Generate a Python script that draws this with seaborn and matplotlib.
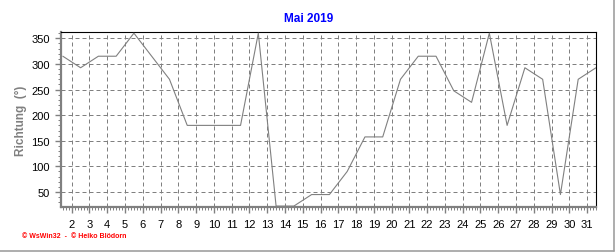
import matplotlib
matplotlib.use("Agg")
import matplotlib.pyplot as plt
from matplotlib.lines import Line2D
from matplotlib.ticker import MultipleLocator
import numpy as np
import pandas as pd
import seaborn as sns

# Data: daily mean wind direction, May 2019
days = list(range(1, 32))
direction = [315, 292.5, 315, 315, 360, 315, 270, 180, 180, 180, 180, 360,
             22.5, 22.5, 45, 45, 90, 157.5, 157.5, 270, 315, 315, 247.5, 225,
             360, 180, 292.5, 270, 45, 270, 292.5]
x_tick_labels = [str(d) for d in range(2, 32)]
y_ticks = [50, 100, 150, 200, 250, 300, 350]

title = "Mai 2019"
ylabel = "Richtung  (°)"
footer = "© WsWin32  -  © Heiko Blödorn"

sns.set_style("white")
plt.rcParams['font.family'] = ['Liberation Sans', 'DejaVu Sans']

W, H = 616, 253
fig = plt.figure(figsize=(W / 100, H / 100), dpi=100)
fig.patch.set_facecolor("white")

left, right, top, bottom = 60.7, 596.5, 33.3, 208.0
ax = fig.add_axes([left / W, 1 - bottom / H, (right - left) / W, (bottom - top) / H])

df = pd.DataFrame({"x": np.array(days) + 0.5, "y": direction})
sns.lineplot(data=df, x="x", y="y", ax=ax, color="#808080", linewidth=0.8,
             zorder=3, clip_on=True)

ax.set_xlim(1.38, 31.53)
ax.set_ylim(20.7, 361.7)

ax.set_xticks(range(2, 32))
ax.set_xticklabels(x_tick_labels)
ax.xaxis.set_minor_locator(MultipleLocator(1 / 6))
ax.set_yticks(y_ticks)
ax.yaxis.set_minor_locator(MultipleLocator(10))

ax.tick_params(axis="both", which="major", direction="out", length=4, width=1,
               color="#808080", labelsize=8, labelcolor="black", pad=4)
ax.tick_params(axis="both", which="minor", direction="out", length=2.5, width=0.7,
               color="#808080")
ax.tick_params(axis="x", which="major", pad=5)
ax.tick_params(axis="y", which="major", pad=4)
ax.tick_params(bottom=True, left=True, which="both")

ax.grid(True, which="major", color="#808080", linewidth=0.72,
        linestyle=(0, (4, 3)), zorder=1)

for s in ["top", "right"]:
    ax.spines[s].set_color("black")
    ax.spines[s].set_linewidth(0.8)
for s in ["left", "bottom"]:
    ax.spines[s].set_color("#808080")
    ax.spines[s].set_linewidth(1.6)

ax.set_xlabel("")
ax.set_ylabel(ylabel, color="#808080", fontweight="bold", fontsize=8.5, labelpad=8)
ax.yaxis.set_label_coords(-34 / (right - left), 0.5)

fig.text(309 / W, 1 - 19 / H, title, color="#0000FF", fontweight="bold",
         fontsize=8.5, ha="center", va="center")
fig.text(22 / W, 1 - 237 / H, footer, color="#FF0000", fontweight="bold",
         fontsize=5, ha="left", va="center")

# light frame at the right and bottom of the picture
fig.add_artist(Line2D([613.5 / W, 613.5 / W], [1 - 252 / H, 1.0], transform=fig.transFigure,
                      color="#a0a0a0", linewidth=1.2))
fig.add_artist(Line2D([0, 613.5 / W], [1 - 252 / H, 1 - 252 / H], transform=fig.transFigure,
                      color="#a0a0a0", linewidth=1.2))

fig.savefig("out.png", dpi=100)
